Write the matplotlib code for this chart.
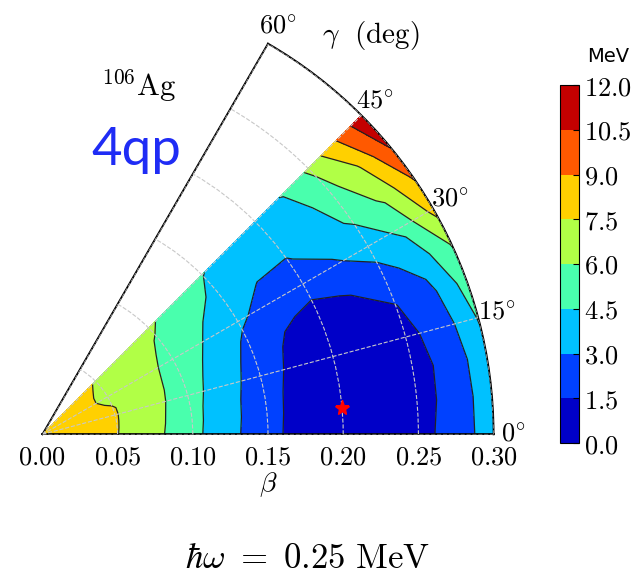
import numpy as np
import matplotlib
matplotlib.use("Agg")
import matplotlib.pyplot as plt

plt.rcParams['mathtext.fontset'] = 'cm'
plt.rcParams['font.family'] = ['DejaVu Sans']

# deformation grid (beta, gamma in degrees)
beta = [0.0, 0.025, 0.05, 0.075, 0.1, 0.125, 0.15, 0.175, 0.2, 0.225, 0.25, 0.275, 0.3]
gamma = [0, 5, 10, 15, 20, 25, 30, 35, 40, 45]

# energy (MeV), one row per gamma value
energy = [
    [8.5, 8.00, 7.53, 6.36, 4.91, 3.37, 2.02, 0.72, 0.20, 0.45, 0.95, 2.20, 3.8],
    [8.5, 8.02, 7.55, 6.42, 4.96, 3.42, 2.08, 0.76, 0.15, 0.45, 0.95, 2.00, 4.0],
    [8.5, 8.04, 7.57, 6.48, 5.02, 3.48, 2.14, 0.86, 0.25, 0.50, 1.00, 1.90, 4.2],
    [8.5, 8.05, 7.59, 6.55, 5.16, 3.64, 2.29, 1.06, 0.45, 0.60, 1.10, 2.15, 4.6],
    [8.5, 8.04, 7.58, 6.58, 5.29, 3.83, 2.48, 1.26, 0.90, 0.90, 1.45, 2.60, 5.2],
    [8.5, 7.97, 7.40, 6.52, 5.46, 4.09, 2.76, 1.67, 1.25, 1.60, 2.48, 3.60, 6.1],
    [8.5, 7.91, 7.28, 6.51, 5.60, 4.41, 3.23, 2.50, 2.05, 2.80, 3.64, 4.88, 8.0],
    [8.5, 7.92, 7.29, 6.56, 5.75, 4.71, 3.71, 2.95, 2.90, 3.67, 4.73, 6.26, 9.2],
    [8.5, 7.94, 7.36, 6.64, 5.91, 5.01, 4.26, 3.60, 3.45, 3.90, 5.50, 7.36, 10.7],
    [8.5, 7.97, 7.44, 6.82, 6.20, 5.41, 4.53, 4.20, 4.05, 4.55, 6.26, 8.88, 11.6],
]

levels = [0.0, 1.5, 3.0, 4.5, 6.0, 7.5, 9.0, 10.5, 12.0]
r_ticks = [0.0, 0.05, 0.10, 0.15, 0.20, 0.25, 0.30]
theta_ticks = [0, 15, 30, 45, 60]
minimum = (0.20, 5)  # (beta, gamma) of the red star

fig = plt.figure(figsize=(6.38, 5.75), dpi=100)
# the wedge only fills ~86% of the polar axes box, so the box is enlarged
ax = fig.add_axes([7.7 / 638, 110.4 / 575, 520.6 / 638, 451.2 / 575],
                  projection='polar')

T, R = np.meshgrid(np.deg2rad(gamma), beta, indexing='ij')
E = np.array(energy)
cf = ax.contourf(T, R, E, levels=levels, cmap='jet')
ax.contour(T, R, E, levels=levels, colors='#222222', linewidths=0.9)
ax.plot(np.deg2rad(minimum[1]), minimum[0], marker='*', color='red',
        markersize=11, linestyle='none', zorder=5)

ax.set_thetamin(0)
ax.set_thetamax(60)
ax.set_rlim(0, 0.3)
ax.set_thetagrids(theta_ticks, labels=[rf'${t}^{{\circ}}$' for t in theta_ticks])
ax.set_rgrids(r_ticks, labels=[rf'${v:.2f}$' for v in r_ticks])
ax.tick_params(axis='both', labelsize=19)
ax.set_axisbelow(False)
ax.grid(True, color='#c8c8c8', linestyle='--', linewidth=0.8)
for sp in ax.spines.values():
    sp.set_linewidth(1.3)

cax = fig.add_axes([560 / 638, 132 / 575, 19 / 638, 358 / 575])
cb = fig.colorbar(cf, cax=cax, ticks=levels)
cb.ax.set_yticklabels([rf'${v:.1f}$' for v in levels], fontsize=19)
cb.ax.tick_params(direction='in', length=4)

fig.text(608 / 638, 1 - 56 / 575, 'MeV', ha='center', va='center', fontsize=14)
fig.text(371 / 638, 1 - 36 / 575, r'$\gamma\ \ (\mathrm{deg})$', ha='center',
         va='center', fontsize=21)
fig.text(139 / 638, 1 - 86 / 575, r'$^{106}\mathrm{Ag}$', ha='center',
         va='center', fontsize=22)
fig.text(136 / 638, 1 - 150 / 575, '4qp', ha='center', va='center',
         fontsize=38, color='#1f2cf5', family=['Lato', 'DejaVu Sans'])
fig.text(268 / 638, 1 - 485 / 575, r'$\beta$', ha='center', va='center',
         fontsize=20)
fig.text(307 / 638, 1 - 558 / 575, r'$\hbar\omega\ =\ 0.25\ \mathrm{MeV}$',
         ha='center', va='center', fontsize=25)

fig.savefig('out.png', dpi=100)
